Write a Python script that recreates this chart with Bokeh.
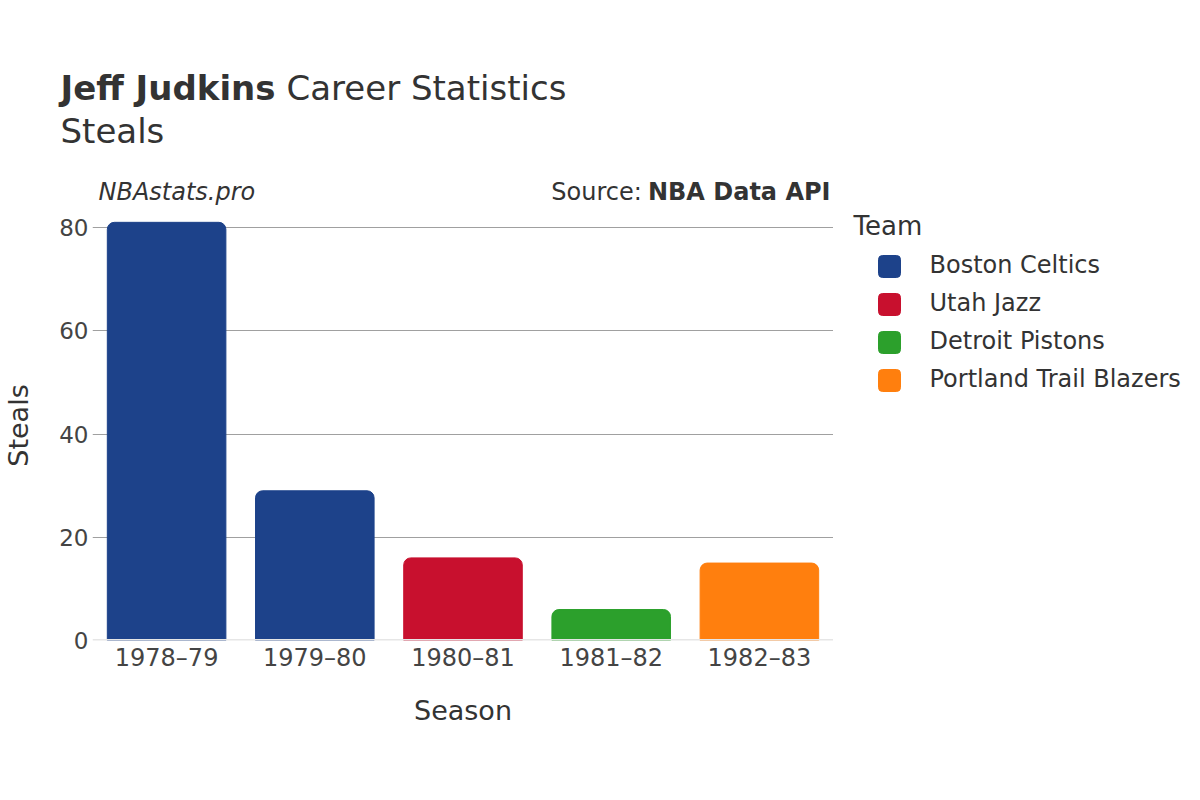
from bokeh.plotting import figure
from bokeh.layouts import column, row
from bokeh.models import ColumnDataSource, FactorRange, Range1d, Label, Span
from bokeh.embed import file_html
from bokeh.resources import INLINE

seasons = ["1978–79", "1979–80", "1980–81", "1981–82", "1982–83"]
steals = [81, 29, 16, 6, 15]
teams = ["Boston Celtics", "Boston Celtics", "Utah Jazz", "Detroit Pistons", "Portland Trail Blazers"]
team_order = ["Boston Celtics", "Utah Jazz", "Detroit Pistons", "Portland Trail Blazers"]
team_colors = {"Boston Celtics": "#1d428a", "Utah Jazz": "#c8102e",
               "Detroit Pistons": "#2ca02c", "Portland Trail Blazers": "#ff7f0e"}
y_ticks = [0, 20, 40, 60, 80]

FONT = "DejaVu Sans"
TXT = "#333333"
TICK = "#444444"

HEAD_H = 210
MAIN_W = 833
RIGHT_W = 1200 - MAIN_W
BODY_H = 800 - HEAD_H
FRAME_BOTTOM = 640
PX_PER_UNIT = 5.1625
BASE_FIX = 0.43  # label baseline correction, in em


def plain_fig(w, h, xr, yr):
    f = figure(width=w, height=h, output_backend="svg", toolbar_location=None, tools="",
               x_range=xr, y_range=yr, title=None,
               x_axis_location=None, y_axis_location=None,
               min_border=0, min_border_left=0, min_border_right=0,
               min_border_top=0, min_border_bottom=0)
    f.outline_line_color = None
    f.grid.visible = False
    f.background_fill_color = None
    f.border_fill_color = None
    return f


def lab(fig, text, x, y, size, style="normal", align="left", color=TXT):
    fig.add_layout(Label(x=x, y=y - BASE_FIX * size, text=text, text_font=FONT,
                         text_font_size=f"{size}px", text_font_style=style, text_align=align,
                         text_baseline="alphabetic", text_color=color))


# ---------- header ----------
head = plain_fig(1200, HEAD_H, Range1d(0, 1200), Range1d(HEAD_H, 0))
lab(head, "Jeff Judkins", 60, 102, 34, "bold")
lab(head, "Career Statistics", 286, 102, 34)
lab(head, "Steals", 60, 145, 34)
lab(head, "NBAstats.pro", 98, 202, 24, "italic")
lab(head, "NBA Data API", 830, 202, 24, "bold", align="right")
lab(head, "Source: ", 649, 202, 24, align="right")

# ---------- main chart ----------
y_end = (FRAME_BOTTOM - HEAD_H) / PX_PER_UNIT
p = figure(width=MAIN_W, height=BODY_H, output_backend="svg", toolbar_location=None, tools="",
           x_range=FactorRange(*seasons, range_padding=0), y_range=Range1d(0, y_end), title=None,
           min_border_left=92, min_border_right=0, min_border_top=0,
           min_border_bottom=800 - FRAME_BOTTOM)
p.outline_line_color = None
p.border_fill_color = None

for t in team_order:
    idx = [i for i, tm in enumerate(teams) if tm == t]
    src = ColumnDataSource(dict(x=[seasons[i] for i in idx], top=[steals[i] for i in idx]))
    p.vbar(x="x", top="top", width=0.8, source=src, fill_color=team_colors[t],
           line_color=team_colors[t], line_width=1, border_radius=(7, 7, 0, 0))

p.xgrid.grid_line_color = None
p.ygrid.grid_line_color = "#a0a0a0"
p.ygrid.grid_line_width = 1
p.ygrid.ticker = y_ticks
p.yaxis.ticker = y_ticks

p.add_layout(Span(location=0, dimension="width", line_color="#e6e6e6", line_width=3))

for ax in (p.xaxis[0], p.yaxis[0]):
    ax.axis_line_color = None
    ax.major_tick_line_color = None
    ax.minor_tick_line_color = None
    ax.major_tick_out = 0
    ax.major_tick_in = 0
    ax.minor_tick_out = 0
    ax.minor_tick_in = 0
    ax.major_label_text_font = FONT
    ax.major_label_text_color = TICK
    ax.axis_label_text_font = FONT
    ax.axis_label_text_font_size = "27px"
    ax.axis_label_text_font_style = "normal"
    ax.axis_label_text_color = TXT
p.xaxis.major_label_text_font_size = "24px"
p.yaxis.major_label_text_font_size = "23px"
p.xaxis.major_label_standoff = 3
p.yaxis.major_label_standoff = 4
p.xaxis.axis_label = "Season"
p.yaxis.axis_label = "Steals"
p.xaxis.axis_label_standoff = 20
p.yaxis.axis_label_standoff = 22

# ---------- legend panel (its frame is aligned with the chart frame: 210..640) ----------
side = plain_fig(RIGHT_W, BODY_H, Range1d(MAIN_W, 1200), Range1d(FRAME_BOTTOM, HEAD_H))
lab(side, "Team", 853, 237, 26)

ROW0, PITCH, SW = 266, 38, 22
rows = list(range(len(team_order)))
centers = [ROW0 + PITCH * i for i in rows]
leg_src = ColumnDataSource(dict(
    left=[878] * len(rows), right=[878 + SW] * len(rows),
    top=[c - SW / 2 for c in centers], bottom=[c + SW / 2 for c in centers],
    color=[team_colors[t] for t in team_order]))
side.quad(left="left", right="right", top="top", bottom="bottom", source=leg_src,
          fill_color="color", line_color="color", border_radius=4)
for t, c in zip(team_order, centers):
    lab(side, t, 929, c + 9, 24)

layout = column(head, row(p, side, spacing=0), spacing=0)
open("out.html", "w").write(file_html(layout, INLINE))
